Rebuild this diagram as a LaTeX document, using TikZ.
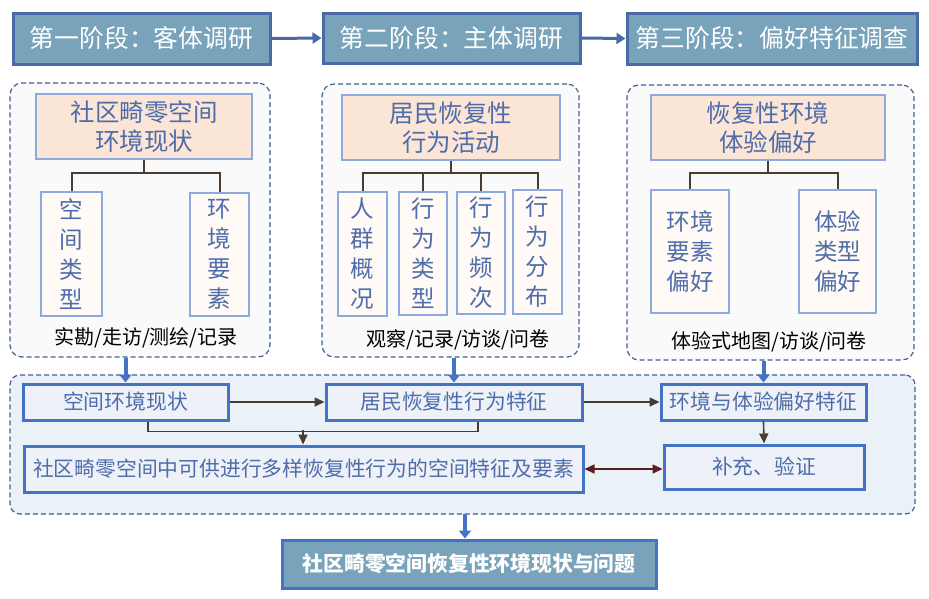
\documentclass[tikz,border=0pt]{standalone}
\usepackage{fontspec}
\setmainfont{Noto Sans CJK SC}
\usetikzlibrary{arrows.meta,positioning,calc}
\definecolor{stagefill}{HTML}{78A3BA}
\definecolor{stageline}{HTML}{4A6AA5}
\definecolor{hdrtext}{HTML}{4E6DAA}
\definecolor{pinkfill}{HTML}{FBE5D6}
\definecolor{lightline}{HTML}{8EA9DB}
\definecolor{creamfill}{HTML}{FFFAF5}
\definecolor{dashline}{HTML}{41608F}
\definecolor{contfill}{HTML}{FAFAFA}
\definecolor{botfill}{HTML}{EBF2F7}
\definecolor{boxline}{HTML}{4472C4}
\definecolor{boxfill}{HTML}{EEF2F8}
\definecolor{brn}{HTML}{4A3C30}
\definecolor{dred}{HTML}{5B1F1F}
\tikzset{
  stagebox/.style={draw=stageline,fill=stagefill,line width=3pt,inner sep=0pt,text=white,font=\fontsize{24.8}{28}\selectfont},
  contbox/.style={draw=dashline,dashed,dash pattern=on 5pt off 3pt,line width=1.2pt,fill=contfill,rounded corners=12pt,inner sep=0pt},
  hdrbox/.style={draw=lightline,fill=pinkfill,line width=2pt,inner sep=0pt,text=hdrtext,align=center,font=\fontsize{24.5}{29.5}\selectfont},
  kidbox/.style={draw=lightline,fill=creamfill,line width=2pt,inner sep=0pt,text=hdrtext,align=center,font=\fontsize{23.5}{30}\selectfont},
  method/.style={inner sep=0pt,text=black,font=\fontsize{20}{22}\selectfont},
  bluebox/.style={draw=boxline,fill=boxfill,line width=3pt,inner sep=0pt,text=hdrtext,font=\fontsize{20.8}{24}\selectfont},
  treeline/.style={draw=brn,line width=2pt},
  brnarrow/.style={draw=brn,line width=1.6pt,-{Triangle[length=10pt,width=9pt]}},
  bigarrow/.style={draw=boxline,line width=4pt,-{Triangle[length=8pt,width=12pt]}},
  stagearrow/.style={draw=stageline,line width=3pt,-{Triangle[length=9pt,width=11pt]}},
}
\begin{document}
\begin{tikzpicture}[x=1pt,y=-1pt]
\useasboundingbox (0,0) rectangle (929,598);
% stages
\node[stagebox,minimum width=257pt,minimum height=51pt] (s1) at (141.5,38.5) {第一阶段：客体调研};
\node[stagebox,minimum width=257pt,minimum height=50pt] (s2) at (451.5,38) {第二阶段：主体调研};
\node[stagebox,minimum width=290pt,minimum height=51pt] (s3) at (772,38.5) {第三阶段：偏好特征调查};
\draw[stagearrow] (s1.east) -- (s2.west);
\draw[stagearrow] (s2.east) -- (s3.west);
% containers
\node[contbox,minimum width=260pt,minimum height=274pt] (c1) at (140,220) {};
\node[contbox,minimum width=257pt,minimum height=273pt] (c2) at (450.5,220.5) {};
\node[contbox,minimum width=287pt,minimum height=275pt] (c3) at (770.5,222.5) {};
% headers
\node[hdrbox,minimum width=216pt,minimum height=65pt] (h1) at (144,126.5) {社区畸零空间\\环境现状};
\node[hdrbox,minimum width=218pt,minimum height=65pt] (h2) at (451,127.5) {居民恢复性\\行为活动};
\node[hdrbox,minimum width=234pt,minimum height=65pt] (h3) at (768,127.5) {恢复性环境\\体验偏好};
% children C1
\node[kidbox,minimum width=61pt,minimum height=124pt] (k11) at (71.5,254) {空\\间\\类\\型};
\node[kidbox,minimum width=59pt,minimum height=123pt] (k12) at (219.5,254.5) {环\\境\\要\\素};
% children C2
\node[kidbox,minimum width=49pt,minimum height=124pt] (k21) at (362.5,254) {人\\群\\概\\况};
\node[kidbox,minimum width=48pt,minimum height=123pt] (k22) at (423,253.5) {行\\为\\类\\型};
\node[kidbox,minimum width=48pt,minimum height=122pt] (k23) at (481,253) {行\\为\\频\\次};
\node[kidbox,minimum width=49pt,minimum height=124pt] (k24) at (537.5,252) {行\\为\\分\\布};
% children C3
\node[kidbox,minimum width=78pt,minimum height=123pt] (k31) at (690,251.5) {环境\\要素\\偏好};
\node[kidbox,minimum width=77pt,minimum height=123pt] (k32) at (837.5,251.5) {体验\\类型\\偏好};
% tree lines
\draw[treeline] (h1.south) -- ++(0,13) coordinate (t1);
\draw[treeline] (k11.north) |- (t1) -| (k12.north);
\draw[treeline] (h2.south) -- ++(0,12) coordinate (t2);
\draw[treeline] (k21.north) |- (t2) -| (k24.north);
\draw[treeline] (k22.north) -- (k22.north |- t2);
\draw[treeline] (k23.north) -- (k23.north |- t2);
\draw[treeline] (h3.south) -- ++(0,12) coordinate (t3);
\draw[treeline] (k31.north) |- (t3) -| (k32.north);
% methods
\node[method] (m1) at (146,338) {实勘/走访/测绘/记录};
\node[method] (m2) at (458,340) {观察/记录/访谈/问卷};
\node[method] (m3) at (769,342) {体验式地图/访谈/问卷};
% bottom container
\node[contbox,fill=botfill,rounded corners=10pt,minimum width=905pt,minimum height=139pt] (bot) at (462.5,444.5) {};
% row boxes
\node[bluebox,minimum width=205pt,minimum height=36pt] (b1) at (125.5,402) {空间环境现状};
\node[bluebox,minimum width=256pt,minimum height=36pt] (b2) at (454,402) {居民恢复性行为特征};
\node[bluebox,minimum width=205pt,minimum height=36pt] (b3) at (763.5,402) {环境与体验偏好特征};
\node[bluebox,minimum width=559pt,minimum height=46pt] (b4) at (303.5,469) {社区畸零空间中可供进行多样恢复性行为的空间特征及要素};
\node[bluebox,minimum width=200pt,minimum height=44pt] (b5) at (764,467) {补充、验证};
% big arrows
\draw[bigarrow] (b1.north |- c1.south) -- (b1.north);
\draw[bigarrow] (b2.north |- c2.south) -- (b2.north);
\draw[bigarrow] (c3.south -| b3.north) -- (b3.north);
% brown arrows
\draw[brnarrow] (b1.east) -- (b2.west);
\draw[brnarrow] (b2.east) -- (b3.west);
\draw[brnarrow] (b3.south) -- (b5.north);
\coordinate (ja) at ([xshift=22.5pt]b1.south);
\coordinate (jb) at ([xshift=24pt]b2.south);
\draw[draw=brn,line width=1.6pt] (ja) -- ++(0,10) -| (jb);
\coordinate (jm) at (303,430);
\draw[brnarrow] (jm) -- (jm |- b4.north);
\draw[draw=dred,line width=1.6pt,{Triangle[length=10pt,width=9pt]}-{Triangle[length=10pt,width=9pt]}] (b4.east) -- (b4.east -| b5.west);
% final
\node[stagebox,draw=boxline,minimum width=374pt,minimum height=48pt,font=\fontsize{20.8}{24}\selectfont\bfseries] (fin) at (469,564) {社区畸零空间恢复性环境现状与问题};
\coordinate (fa) at (465,514);
\draw[bigarrow] (fa) -- (fa |- fin.north);
\end{tikzpicture}
\end{document}
